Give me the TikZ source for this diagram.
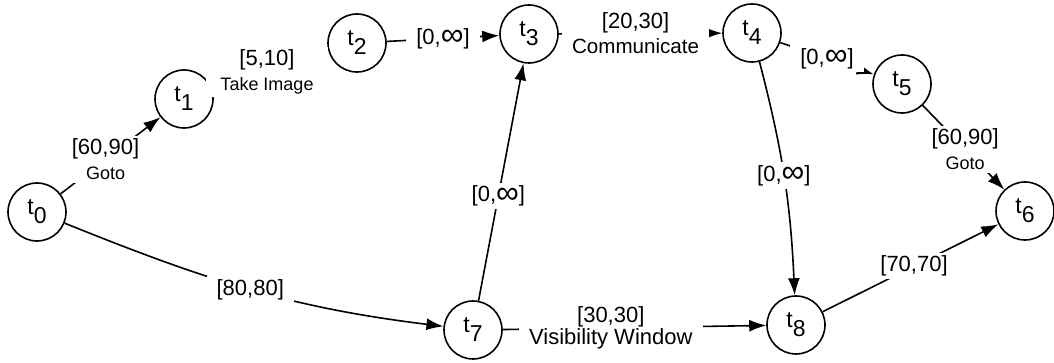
\documentclass[tikz,border=0pt]{standalone}
\usepackage{fontspec}
\setmainfont{Liberation Sans}
\usetikzlibrary{arrows.meta}

\newcommand{\tsub}[1]{t\raisebox{-4.5pt}{#1}}
\newcommand{\actname}{\fontsize{9}{10}\selectfont}
\newcommand{\unbound}{[0,\raisebox{-0.6pt}{\scalebox{1.45}{∞}}]}

\tikzset{
    state/.style={circle, draw, line width=0.8pt, minimum size=29pt, inner sep=0pt, font=\fontsize{11.5}{12}\selectfont},
    edge/.style={line width=0.8pt, -{Latex[length=8.5pt,width=6pt]}},
    bound/.style={fill=white, inner xsep=5pt, inner ysep=1.5pt, align=center, font=\fontsize{11}{12.5}\selectfont},
}

\begin{document}
\begin{tikzpicture}[x=0.5pt, y=0.5pt]
        \useasboundingbox (0,0) rectangle (1054,363);
        % time points
        \node[state] (t0) at (37,151) {\tsub{0}};
        \node[state] (t1) at (184,264) {\tsub{1}};
        \node[state] (t2) at (357,320) {\tsub{2}};
        \node[state] (t3) at (529,329) {\tsub{3}};
        \node[state] (t4) at (752,330) {\tsub{4}};
        \node[state] (t5) at (902,279) {\tsub{5}};
        \node[state] (t6) at (1025,152) {\tsub{6}};
        \node[state] (t7) at (473,33) {\tsub{7}};
        \node[state] (t8) at (796,38) {\tsub{8}};
        % upper chain of activities
        \draw[edge] (t0) -- node[bound, pos=0.45] {[60,90]\\{\actname Goto}} (t1);
        \draw[edge] (t1) -- node[bound, pos=0.47, inner xsep=7pt] {[5,10]\\{\actname Take Image}} (t2);
        \draw[edge] (t2) -- node[bound] {\unbound} (t3);
        \draw[edge] (t3) -- node[bound, pos=0.47] {[20,30]\\{\fontsize{10.3}{12}\selectfont Communicate}} (t4);
        \draw[edge] (t4) -- node[bound] {\unbound} (t5);
        \draw[edge] (t5) -- node[bound, pos=0.52] {[60,90]\\{\actname Goto}} (t6);
        % lower chain with the visibility window
        \draw[edge] (t0) to[out=-22, in=173] node[bound] {[80,80]} (t7);
        \draw[edge] (t7) -- node[bound, pos=0.44] {\unbound} (t3);
        \draw[edge] (t7) -- node[bound, pos=0.41, inner ysep=0pt] {[30,30]\\[-1.5pt]Visibility Window} (t8);
        \draw[edge] (t4) to[bend left=6] node[bound, pos=0.49] {\unbound} (t8);
        \draw[edge] (t8) -- node[bound, pos=0.52] {[70,70]} (t6);
    \end{tikzpicture}
\end{document}
